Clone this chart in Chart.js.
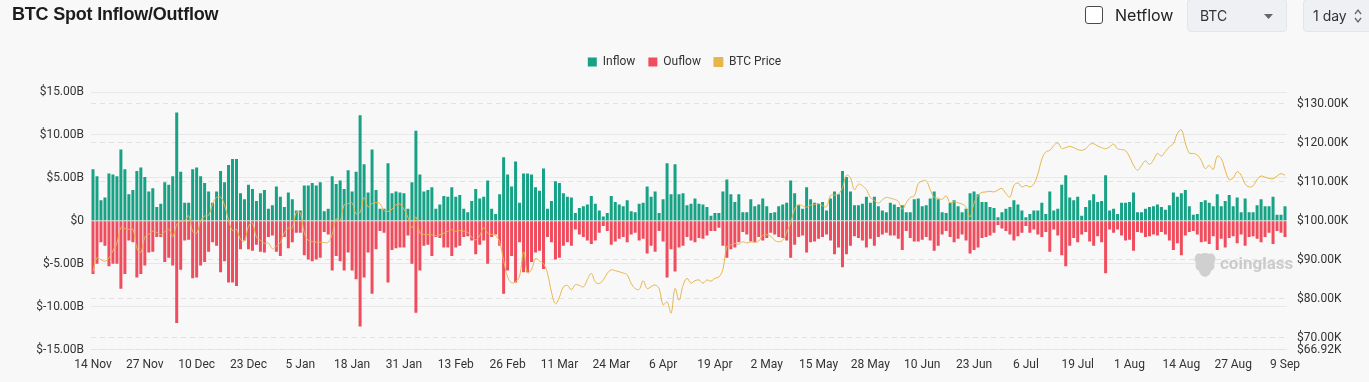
<!DOCTYPE html>
<html>
<head>
<meta charset="utf-8">
<script src="https://cdn.jsdelivr.net/npm/chart.js@4.4.1/dist/chart.umd.min.js"></script>
<style>
  body { margin: 0; background: #f8f8f8; font-family: Inter, "Noto Sans", sans-serif; }
  #painel { position: relative; width: 1369px; height: 382px; overflow: hidden; }
  #grafico { position: absolute; left: 0; top: 0; }
  .titulo { position: absolute; left: 12px; top: 4px; font-family: "Liberation Sans", Arial, sans-serif; font-size: 18px; font-weight: 700; color: #1c1c1c; letter-spacing: -0.2px; }
  .check { position: absolute; left: 1085px; top: 6px; width: 16px; height: 16px; border: 1.5px solid #4a4a4a; border-radius: 3px; background: #fff; }
  .netflow { position: absolute; left: 1115px; top: 5px; font-size: 16px; color: #222; }
  .caixa { position: absolute; top: -1px; height: 33px; background: #eef0f3; border: 1px solid #e2e5e9; border-radius: 4px; box-sizing: border-box; font-size: 14px; color: #333; }
  .caixa span { position: absolute; top: 7px; }
  .marca { position: absolute; left: 1220px; top: 253px; font-size: 17px; font-weight: 700; color: #cbcbcb; font-family: Roboto, sans-serif; }
  .logo { position: absolute; left: 1193px; top: 252px; }
</style>
</head>
<body>
<div id="painel">
  <canvas id="grafico" width="1369" height="382"></canvas>
  <div class="titulo">BTC Spot Inflow/Outflow</div>
  <div class="check"></div>
  <div class="netflow">Netflow</div>
  <div class="caixa" style="left:1187px; width:100px;"><span style="left:12px;">BTC</span>
    <svg style="position:absolute; left:76px; top:14px;" width="9" height="5"><path d="M0 0 L9 0 L4.5 5 Z" fill="#666"/></svg>
  </div>
  <div class="caixa" style="left:1303px; width:90px;"><span style="left:9px;">1 day</span>
    <svg style="position:absolute; left:50px; top:8px;" width="8" height="16"><path d="M1 6 L4 2 L7 6 M1 10 L4 14 L7 10" stroke="#666" stroke-width="1.3" fill="none"/></svg>
  </div>
  <svg class="logo" width="24" height="26" viewBox="0 0 24 26"><path d="M3 3 Q5 0 8 2 Q12 0 16 2 Q19 0 21 3 Q24 7 21 11 Q23 16 18 19 Q17 24 12 25 Q7 24 6 19 Q1 16 3 11 Q0 7 3 3 Z" fill="#d0d0d0"/></svg>
  <div class="marca">coinglass</div>
</div>
<script>
// valores (bilhoes de USD por dia, 14 Nov -> 9 Sep)
const inflow = [
  6.0, 5.2, 2.4, 2.7, 5.5, 5.4, 5.2, 8.3, 6.0, 3.1,
  3.6, 5.8, 6.2, 5.1, 3.4, 3.8, 1.6, 2.0, 4.5, 4.2,
  5.2, 12.6, 5.7, 2.1, 2.1, 6.0, 6.2, 5.2, 4.4, 3.4,
  2.1, 3.4, 5.8, 4.5, 6.5, 7.2, 7.2, 3.2, 2.5, 4.2,
  3.7, 2.3, 3.2, 3.6, 1.4, 1.8, 4.0, 2.8, 1.6, 3.3,
  2.5, 1.2, 1.2, 4.1, 4.1, 4.4, 4.1, 4.5, 1.1, 1.4,
  5.2, 4.3, 4.7, 3.7, 5.9, 3.4, 5.7, 12.3, 6.6, 3.3,
  8.3, 3.6, 1.4, 1.4,
  6.7, 3.2, 3.4, 3.3, 3.2, 1.4, 4.5, 10.5, 5.4, 3.4,
  3.6, 3.9, 1.4, 1.9, 2.9, 2.8, 3.9, 2.8, 3.0, 1.4,
  1.0, 2.3, 3.7, 2.6, 2.8, 4.7, 1.4, 0.8, 3.1, 7.4,
  5.4, 4.0, 6.9, 2.1, 5.5, 5.5, 5.4, 3.9, 3.5, 6.1,
  1.4, 2.3, 4.6, 4.4, 3.2, 2.8, 2.7, 0.9, 1.5, 1.7,
  1.9, 2.9, 2.0, 1.2, 0.5, 0.9, 2.9, 2.2, 1.9, 1.7,
  2.4, 1.1, 1.0, 2.0, 2.1, 4.0, 2.8, 3.4, 0.9, 2.5,
  6.7, 3.1, 6.6, 3.1, 3.2,
  1.8, 2.0, 2.6, 2.0, 1.9, 1.6, 0.6, 0.9, 0.9,
  3.4, 4.8, 3.1, 2.2, 3.1, 1.0, 1.0, 2.5, 1.7, 1.9,
  2.6, 1.7, 0.9, 1.0, 1.7, 1.9, 2.1, 4.7, 3.2, 1.8,
  1.4, 3.9, 2.5, 2.1, 2.0, 2.2, 1.2, 2.6, 3.4, 3.1,
  5.8, 5.1, 3.4, 1.8, 1.8, 2.0, 2.8, 2.1, 2.8, 1.7,
  1.2, 1.0, 2.1, 1.9, 1.6, 1.8, 1.0, 1.0, 2.5, 2.6,
  1.7, 1.8, 2.6, 3.4, 2.5, 1.0, 0.9, 2.1, 2.4, 1.7,
  1.0, 1.4, 3.2, 3.4, 3.1, 2.2,
  2.2, 1.6, 1.5, 0.4, 1.0, 1.4, 1.6, 2.4, 1.9, 1.2,
  0.4, 0.8, 1.2, 1.2, 2.1, 0.8, 3.4, 1.2, 1.4, 4.2,
  5.3, 2.7, 2.4, 2.8, 0.6, 1.6, 2.4, 3.1, 2.2, 2.3,
  5.3, 1.2, 1.4, 0.8, 2.1, 2.1, 2.2, 3.3, 1.0, 1.0,
  1.4, 1.6, 1.7, 1.9, 1.6, 1.3, 1.8, 3.3, 2.8, 3.2,
  3.6, 1.7, 0.7, 0.8, 2.2, 2.4, 2.1, 1.7, 3.1, 1.7,
  2.3, 3.0, 1.7, 2.7, 1.0, 2.6, 1.0, 1.0, 1.8, 2.5,
  1.7, 1.7, 2.8, 0.7, 0.7, 1.7
];

const ouflow = [
  -6.2, -5.0, -2.5, -2.9, -5.3, -5.0, -5.0, -7.9, -6.2, -2.3,
  -2.5, -6.6, -6.2, -5.2, -3.7, -3.6, -1.9, -1.9, -4.8, -4.3,
  -5.2, -11.9, -5.7, -2.3, -2.2, -6.7, -6.6, -5.2, -4.8, -3.6,
  -2.5, -2.9, -6.0, -4.7, -7.2, -7.2, -7.6, -3.3, -2.3, -3.3,
  -3.5, -2.8, -3.6, -3.7, -1.9, -1.7, -3.6, -4.1, -1.9, -3.2,
  -2.5, -1.4, -1.4, -4.0, -4.5, -4.7, -4.5, -4.3, -1.3, -1.6,
  -5.8, -4.1, -4.7, -5.8, -3.7, -5.8, -6.8, -12.3, -6.6, -3.7,
  -8.5, -3.3, -1.2, -1.4,
  -7.2, -3.4, -3.2, -3.1, -3.1, -1.7, -5.0, -10.7, -5.8, -2.9,
  -2.8, -4.1, -1.9, -2.0, -3.1, -3.1, -4.1, -3.1, -2.9, -1.9,
  -1.8, -2.3, -3.9, -2.8, -2.3, -5.0, -1.9, -1.6, -2.9, -8.5,
  -5.8, -4.1, -7.2, -2.5, -6.0, -6.0, -4.8, -3.7, -3.5, -5.6,
  -1.9, -2.5, -4.5, -4.3, -2.9, -2.5, -2.9, -1.0, -1.6, -1.9,
  -2.3, -2.7, -2.3, -1.4, -0.6, -1.2, -2.8, -2.4, -2.1, -1.9,
  -2.5, -1.6, -1.4, -2.3, -2.1, -3.8, -2.9, -3.6, -1.2, -2.4,
  -6.6, -3.3, -5.9, -3.1, -2.9,
  -1.9, -2.3, -2.5, -2.0, -2.1, -1.7, -1.2, -1.2, -0.8,
  -2.9, -4.3, -3.3, -3.1, -2.5, -1.3, -1.6, -2.4, -2.5, -1.9,
  -2.3, -2.0, -1.4, -1.6, -1.9, -2.0, -2.3, -4.3, -2.8, -1.9,
  -1.7, -3.7, -2.5, -2.4, -2.1, -1.9, -1.6, -2.3, -3.9, -3.1,
  -5.4, -3.9, -2.9, -1.8, -2.0, -2.3, -3.1, -2.1, -2.9, -1.9,
  -1.6, -1.4, -1.7, -1.7, -2.1, -3.4, -1.2, -2.0, -2.4, -2.4,
  -2.2, -1.9, -2.3, -3.5, -2.9, -1.6, -1.2, -1.9, -2.5, -2.1,
  -1.6, -2.3, -3.8, -3.4, -3.1, -2.0,
  -1.9, -1.7, -1.4, -0.5, -0.9, -1.2, -1.6, -2.3, -1.8, -1.4,
  -0.6, -1.4, -1.0, -1.6, -1.9, -1.3, -3.6, -1.0, -1.7, -4.0,
  -5.3, -2.9, -2.0, -2.5, -1.6, -1.3, -2.4, -2.9, -1.8, -2.5,
  -6.1, -1.0, -1.4, -1.0, -1.7, -2.3, -2.2, -3.5, -1.3, -1.4,
  -1.9, -1.8, -1.6, -1.7, -1.3, -1.6, -2.3, -3.4, -2.6, -4.0,
  -1.7, -1.3, -1.2, -1.6, -2.5, -2.4, -2.7, -1.8, -3.4, -2.1,
  -3.1, -2.0, -1.8, -2.6, -1.6, -2.9, -1.9, -1.8, -2.1, -2.5,
  -1.9, -1.4, -2.7, -1.2, -1.4, -1.9
];

// preco do BTC em milhares de USD
const btcPrice = [
  87.0, 90.5, 90.0, 89.6, 90.5, 92.3, 94.3, 98.3, 98.0, 97.8,
  97.9, 93.0, 91.9, 95.8, 96.6, 97.3, 97.0, 96.4, 97.2, 97.8,
  95.9, 99.0, 99.8, 100.0, 101.3, 97.3, 96.8, 100.0, 101.2, 101.4,
  104.3, 106.0, 106.1, 104.0, 100.2, 97.5, 97.8, 95.2, 94.8, 98.6,
  99.4, 95.8, 95.0, 94.2, 94.3, 92.8, 93.5, 94.4, 96.9, 98.1,
  98.2, 102.2, 102.0, 96.9, 95.0, 94.7, 94.5, 94.5, 94.4, 94.5,
  96.5, 100.5, 100.0, 104.1, 104.4, 104.6, 101.8, 102.2, 106.0, 103.6,
  104.4, 104.7, 104.4, 102.6,
  102.4, 103.0, 104.1, 104.3, 103.0, 100.9, 98.2, 101.0, 96.8, 96.5,
  96.4, 96.4, 96.2, 96.4, 96.8, 97.3, 97.7, 97.3, 97.5, 97.3,
  97.0, 95.8, 95.1, 96.2, 98.2, 96.8, 96.5, 96.2, 94.5, 89.8,
  85.6, 84.1, 84.4, 85.8, 92.0, 86.6, 87.5, 90.3, 89.7, 89.0,
  86.5, 81.7, 78.7, 80.4, 83.0, 83.4, 82.3, 83.6, 83.4, 83.0,
  84.9, 86.5, 84.3, 83.9, 84.8, 86.5, 87.4, 87.2, 86.9, 86.6,
  86.1, 83.9, 82.6, 82.4, 84.6, 82.6, 83.1, 83.5, 82.6, 78.4,
  79.2, 76.3, 82.6, 79.6, 83.4,
  85.2, 84.0, 84.6, 84.8, 84.0, 84.8, 84.5, 85.2, 85.6, 87.5,
  93.3, 93.8, 94.2, 94.0, 94.6, 94.3, 94.6, 94.5, 94.8, 96.3,
  96.4, 96.0, 95.0, 94.6, 95.0, 97.1, 99.5, 103.0, 104.2, 103.8,
  103.5, 104.0, 104.2, 104.4, 103.9, 103.6, 106.5, 106.6, 106.9, 108.5,
  111.7, 111.0, 108.0, 109.4, 109.0, 108.0, 106.0, 105.2, 104.5, 105.4,
  106.0, 105.8, 105.5, 105.0, 103.0, 104.6, 106.0, 106.4, 109.5, 110.2,
  110.3, 108.0, 106.0, 105.8, 105.5, 106.4, 104.6, 104.9, 104.6, 104.3,
  103.5, 101.0, 104.5, 106.5, 107.3,
  107.4, 107.6, 107.4, 107.9, 108.3, 107.0, 106.1, 109.1, 109.7, 108.7,
  109.1, 108.7, 109.5, 112.0, 115.8, 117.7, 118.1, 119.3, 120.0, 118.6,
  118.8, 119.1, 118.8, 118.3, 118.1, 118.5, 119.6, 119.8, 119.2, 118.8,
  118.5, 119.0, 119.7, 118.5, 118.3, 118.0, 116.4, 114.3, 113.0, 114.2,
  115.4, 114.5, 115.6, 117.3, 116.6, 117.8, 119.0, 119.8, 122.4, 123.4,
  120.0, 117.4, 117.3, 116.9, 115.5, 113.4, 114.2, 113.2, 116.6, 116.0,
  113.0, 110.6, 111.0, 112.6, 111.7, 109.5, 108.7, 109.0, 110.6, 111.5,
  111.2, 110.9, 110.8, 111.5, 112.1, 111.7
];

const ticksFluxo = [-15, -10, -5, 0, 5, 10, 15];
const ticksPreco = [66.92, 70, 80, 90, 100, 110, 120, 130];
const nomesMeses = ["Jan", "Feb", "Mar", "Apr", "May", "Jun", "Jul", "Aug", "Sep", "Oct", "Nov", "Dec"];
const primeiroDia = Date.UTC(2024, 10, 14);
const passoRotulo = 13;

// um rotulo por dia, comecando em 14 Nov
const dias = inflow.map((_, i) => {
  const d = new Date(primeiroDia + i * 86400000);
  return `${d.getUTCDate()} ${nomesMeses[d.getUTCMonth()]}`;
});

function formatarBilhoes(v) {
  if (v === 0) return "$0";
  return "$" + v.toFixed(2) + "B";
}

// empurra a area do grafico um pouco para baixo da legenda
const espacoLegenda = {
  id: "espacoLegenda",
  beforeInit(chart) {
    const fitOriginal = chart.legend.fit;
    chart.legend.fit = function () {
      fitOriginal.bind(chart.legend)();
      this.height += 14;
    };
  },
};

const fonte = { family: "Roboto, 'Noto Sans', sans-serif", size: 12 };

new Chart(document.getElementById("grafico"), {
  type: "bar",
  data: {
    labels: dias,
    datasets: [
      {
        label: "Inflow",
        data: inflow,
        backgroundColor: "#17a185",
        borderWidth: 0,
        barPercentage: 0.75,
        categoryPercentage: 1,
        yAxisID: "y",
        order: 1,
      },
      {
        label: "Ouflow",
        data: ouflow,
        backgroundColor: "#ef4d5d",
        borderWidth: 0,
        barPercentage: 0.75,
        categoryPercentage: 1,
        yAxisID: "y",
        order: 1,
      },
      {
        type: "line",
        label: "BTC Price",
        data: btcPrice,
        borderColor: "#e6b54c",
        backgroundColor: "#e6b54c",
        borderWidth: 1,
        pointRadius: 0,
        tension: 0.4,
        fill: false,
        yAxisID: "y1",
        order: 0,
      },
    ],
  },
  options: {
    responsive: false,
    animation: false,
    devicePixelRatio: 1,
    layout: { padding: { top: 43, bottom: 2, left: 0, right: 0 } },
    plugins: {
      legend: {
        position: "top",
        labels: {
          boxWidth: 9,
          boxHeight: 9,
          padding: 13,
          color: "#333",
          font: fonte,
          sort: (a, b) => a.datasetIndex - b.datasetIndex,
        },
      },
      tooltip: { enabled: false },
    },
    scales: {
      x: {
        stacked: true,
        grid: { display: false, drawTicks: false },
        border: { display: false },
        ticks: {
          autoSkip: false,
          maxRotation: 0,
          padding: 8,
          color: "#333",
          font: fonte,
          callback: function (valor, indice) {
            return indice % passoRotulo === 0 ? this.getLabelForValue(valor) : "";
          },
        },
      },
      y: {
        position: "left",
        stacked: true,
        min: -15,
        max: 15,
        grid: { color: "#e8e8e8", drawTicks: false },
        border: { display: false },
        ticks: { padding: 7, color: "#333", font: fonte, callback: formatarBilhoes },
        afterBuildTicks: (escala) => {
          escala.ticks = ticksFluxo.map((v) => ({ value: v }));
        },
        afterFit: (escala) => {
          escala.width = 91;
        },
      },
      y1: {
        position: "right",
        min: 66.92,
        max: 133.08,
        grid: { color: "#e2e2e2", drawTicks: false },
        border: { display: false, dash: [5, 4] },
        ticks: {
          padding: 10,
          color: "#333",
          font: fonte,
          callback: (v) => "$" + v.toFixed(2) + "K",
        },
        afterBuildTicks: (escala) => {
          escala.ticks = ticksPreco.map((v) => ({ value: v }));
        },
        afterFit: (escala) => {
          escala.width = 82;
        },
      },
    },
  },
  plugins: [espacoLegenda],
});
</script>
</body>
</html>
